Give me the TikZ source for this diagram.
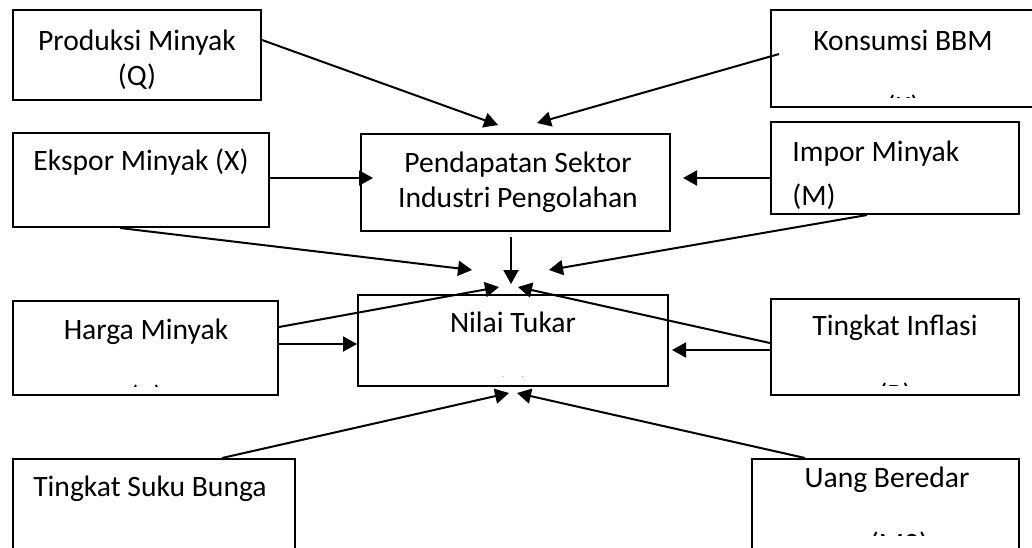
\documentclass[tikz,border=0pt]{standalone}
\usepackage{fontspec}
\setmainfont{Carlito}
\usepackage{tikz}
\usetikzlibrary{arrows.meta,calc}

\begin{document}
\begin{tikzpicture}[x=0.5pt,y=-0.5pt,
  box/.style={draw,line width=1pt,inner sep=0pt},
  txt/.style={inner sep=0pt,align=center,font=\fontsize{14.8pt}{17.5pt}\selectfont},
  one/.style={txt,text height=11.1pt,text depth=3.7pt},
  arr/.style={line width=1pt,-{Triangle[length=7pt,width=7.5pt]}}]
\useasboundingbox (0,0) rectangle (1032,547);
\clip (0,0) rectangle (1032,547);
% kotak
\node[box,minimum width=124pt,minimum height=45pt] (prod) at (137,55) {};
\node[box,minimum width=134.5pt,minimum height=48.5pt] (kons) at (905.5,58.5) {};
\node[box,minimum width=128pt,minimum height=47pt] (eksp) at (141,180) {};
\node[box,minimum width=154.5pt,minimum height=48.5pt] (pend) at (515.5,182.5) {};
\node[box,minimum width=124pt,minimum height=46pt] (impr) at (895,168) {};
\node[box,minimum width=132.5pt,minimum height=47pt] (harga) at (145.5,348) {};
\node[box,minimum width=155pt,minimum height=45.5pt] (kurs) at (513,340.5) {};
\node[box,minimum width=124pt,minimum height=48pt] (infl) at (895,347) {};
\node[box,minimum width=141pt,minimum height=55pt] (suku) at (154,514) {};
\node[box,minimum width=133.5pt,minimum height=55pt] (uang) at (885.5,514) {};
% teks
\node[txt] (prod-t) at (137,59.5) {Produksi Minyak\\(Q)};
\node[one] (kons-t) at (903,43) {Konsumsi BBM};
\node[one] (eksp-t) at (141,163) {Ekspor Minyak (X)};
\node[txt] (pend-t) at (518,182.5) {Pendapatan Sektor\\Industri Pengolahan};
\node[txt,align=left,anchor=west] (impr-t) at (792,175) {Impor Minyak\\[4.5pt](M)};
\node[one] (harga-t) at (146,332) {Harga Minyak};
\node[one] (kurs-t) at (513,325) {Nilai Tukar};
\node[one] (infl-t) at (895,328) {Tingkat Inflasi};
\node[one] (suku-t) at (150,489) {Tingkat Suku Bunga};
\node[one] (uang-t) at (887,480) {Uang Beredar};
% baris kedua yang terpotong
\begin{scope}
  \clip (771,10) rectangle (1040,97);
  \node[one] (kons-s) at (903,109) {(K)};
\end{scope}
\begin{scope}
  \clip (13,301) rectangle (278,386);
  \node[one] (harga-s) at (146,399) {(P)};
\end{scope}
\begin{scope}
  \clip (358,295) rectangle (668,376);
  \node[one] (kurs-s) at (513,391) {(E)};
\end{scope}
\begin{scope}
  \clip (771,299) rectangle (1019,385);
  \node[one] (infl-s) at (895,397) {(P)};
\end{scope}
\begin{scope}
  \clip (752,459) rectangle (1019,535);
  \node[one] (uang-s) at (899,546) {(M2)};
\end{scope}
% ujung panah
\coordinate (t1) at (498,125);
\coordinate (t2) at (537,123);
\coordinate (t3) at (373,178);
\coordinate (t4) at (683,178);
\coordinate (t5) at (472,270);
\coordinate (t6) at (511,284);
\coordinate (t7) at (549,270);
\coordinate (t8) at (499,287);
\coordinate (t9) at (357,344);
\coordinate (t10) at (672,350);
\coordinate (t11) at (518,287);
\coordinate (t12) at (509,393);
\coordinate (t13) at (517,393);
% panah
\draw[arr] ($(prod.east)+(0,-15)$) -- (t1);
\draw[arr] ($(kons.west)+(9,-4.5)$) -- (t2);
\draw[arr] ($(eksp.east)+(0,-2)$) -- (t3);
\draw[arr] ($(impr.west)+(0,10)$) -- (t4);
\draw[arr] ($(eksp.south)+(-21,0)$) -- (t5);
\draw[arr] ($(pend.south)+(-4.5,5)$) -- (t6);
\draw[arr] ($(impr.south)+(-28,0)$) -- (t7);
\draw[arr] ($(harga.east)+(0,-21)$) -- (t8);
\draw[arr] ($(harga.east)+(0,-4)$) -- (t9);
\draw[arr] ($(infl.west)+(0,3)$) -- (t10);
\draw[arr] ($(infl.west)+(0,-4)$) -- (t11);
\draw[arr] ($(suku.north)+(68,0)$) -- (t12);
\draw[arr] ($(uang.north)+(-80.5,0)$) -- (t13);
\end{tikzpicture}
\end{document}
